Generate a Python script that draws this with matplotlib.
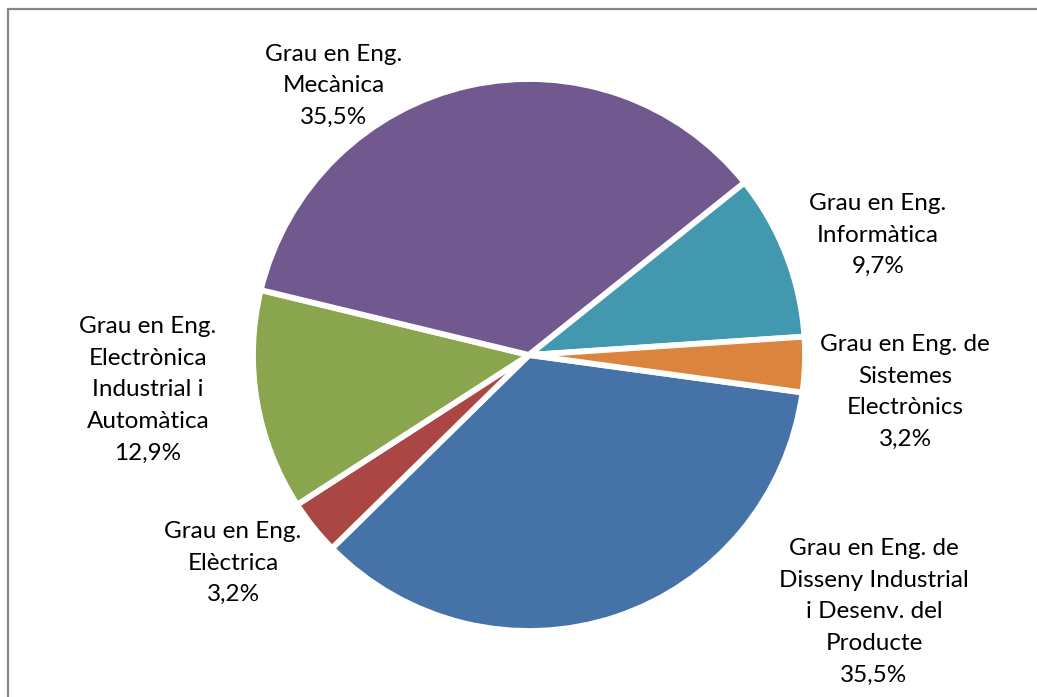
import matplotlib.pyplot as plt
from matplotlib.patches import Rectangle

# dades: alumnes per titulació (ordre de la llegenda d'Excel)
titulacions = ['Grau en Eng. de\nDisseny Industrial\ni Desenv. del\nProducte',
               'Grau en Eng.\nElèctrica',
               'Grau en Eng.\nElectrònica\nIndustrial i\nAutomàtica',
               'Grau en Eng.\nMecànica',
               'Grau en Eng.\nInformàtica',
               'Grau en Eng. de\nSistemes\nElectrònics']
alumnes = [11, 1, 4, 11, 3, 1]
colors = ['#4572A7', '#AA4643', '#89A54E', '#71588F', '#4198AF', '#DB843D']

# posicio de les etiquetes (pixels des de dalt-esquerra)
pos_etiquetes = [(874, 612), (233, 563), (148, 390), (334, 86), (878, 235), (905, 392)]

W, H = 1037, 697
fig = plt.figure(figsize=(W / 100, H / 100), dpi=100)
ax = fig.add_axes([0, 0, 1, 1])

total = sum(alumnes)
ax.pie(alumnes, colors=colors, startangle=-7.8, counterclock=False,
       center=(529, H - 355), radius=276, explode=[0.018] * len(alumnes),
       wedgeprops=dict(edgecolor='white', linewidth=4.2), frame=True)

for nom, n, (x, y) in zip(titulacions, alumnes, pos_etiquetes):
    pct = f"{100 * n / total:.1f}%".replace('.', ',')
    ax.text(x, H - y, nom + '\n' + pct, ha='center', va='center',
            fontsize=17.5, family='Lato', linespacing=1.62, color='black')

ax.set_xlim(0, W)
ax.set_ylim(0, H)
ax.set_aspect('equal')
ax.axis('off')

# marc gris de l'area del grafic
fig.add_artist(Rectangle((7.5 / W, -0.1), 1.2, 1.1 - 8.5 / H, transform=fig.transFigure,
                         fill=False, edgecolor='#878787', linewidth=1.6))

fig.savefig('out.png', dpi=100, facecolor='white')
